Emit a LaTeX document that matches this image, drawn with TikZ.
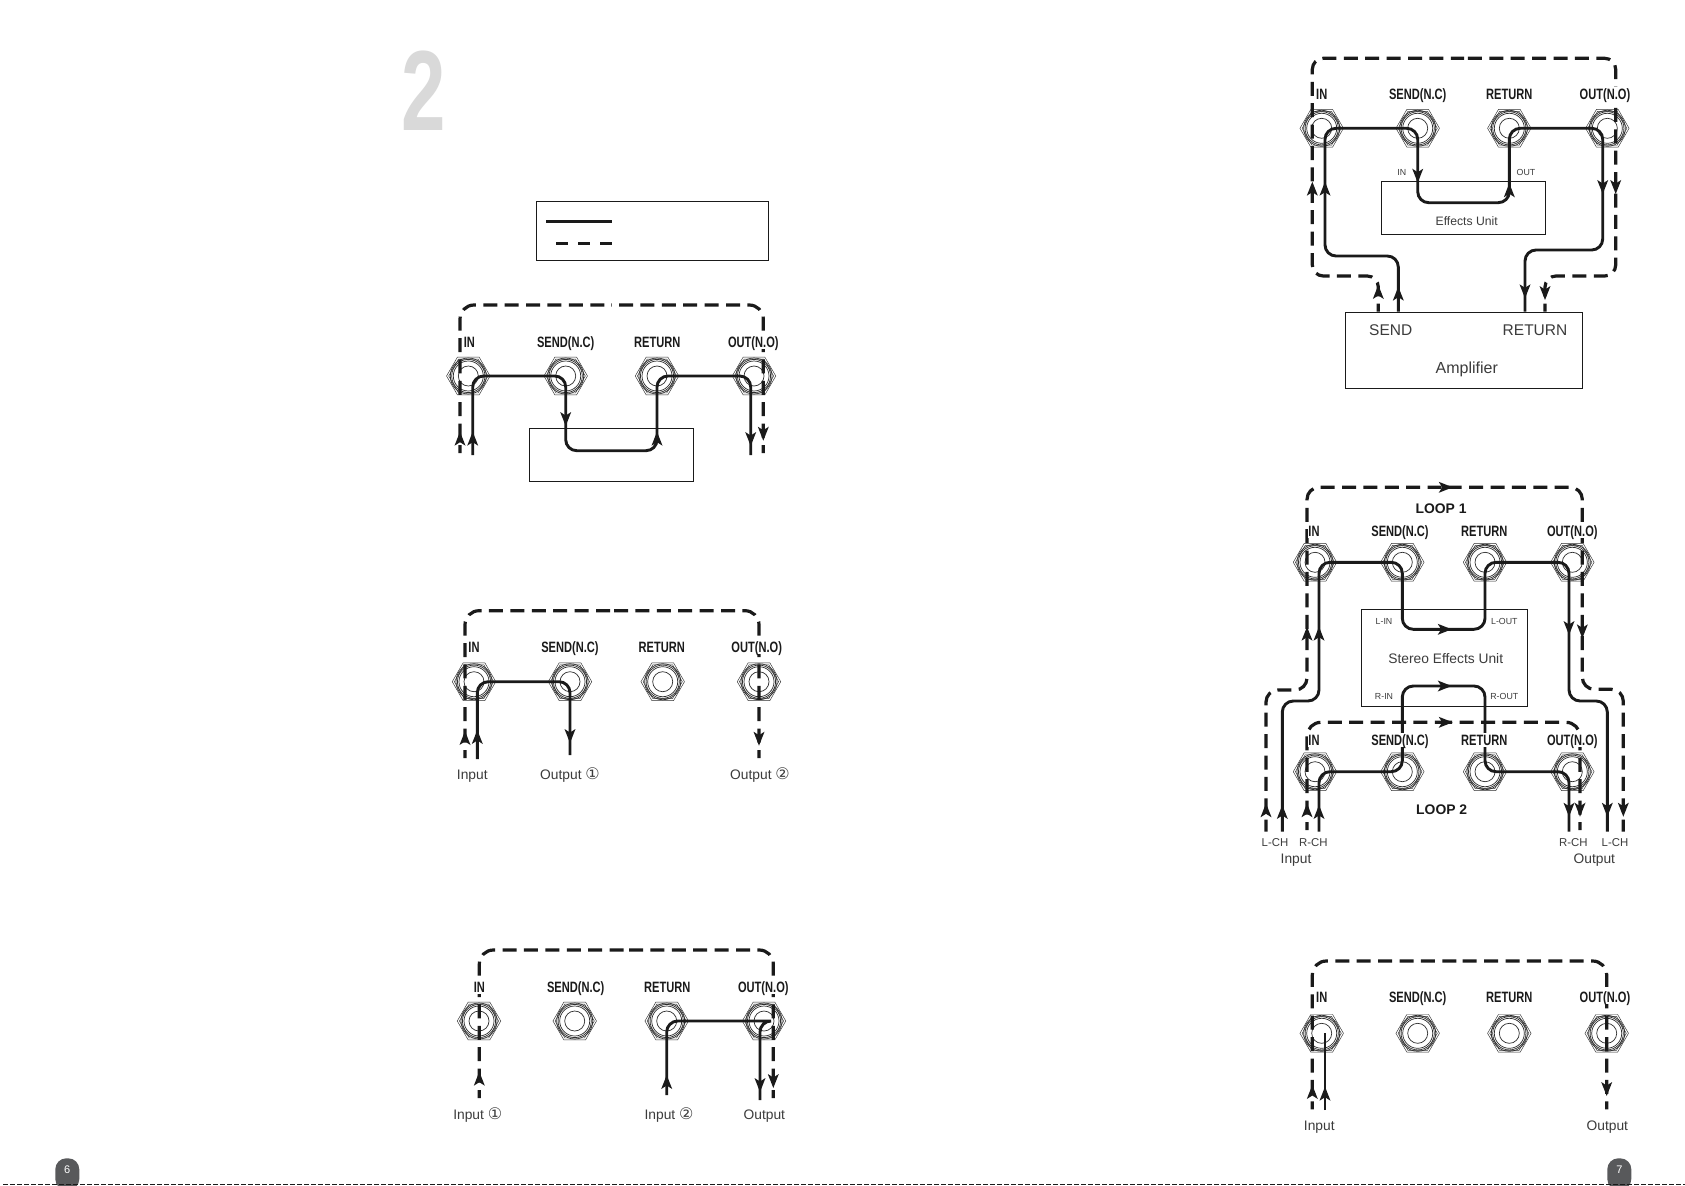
\documentclass[tikz,border=0pt]{standalone}
\usepackage{fontspec}
\usetikzlibrary{shapes.geometric,calc}
\setmainfont{Liberation Sans}
\newfontfamily\jackfont[FakeStretch=0.74]{Liberation Sans}
\newfontfamily\bigfont[FakeStretch=0.7]{Liberation Sans}
\newfontfamily\circfont{DejaVu Sans}
\definecolor{ink}{HTML}{1A1A1A}
\definecolor{softink}{HTML}{3C3C3C}
\definecolor{jackline}{HTML}{2E2E2E}
\definecolor{tabgrey}{HTML}{58595B}
\definecolor{biggrey}{HTML}{D9D9D9}
\tikzset{
  x=1pt,y=-1pt,
  jackbase/.style={regular polygon,regular polygon sides=6,minimum size=43.5pt,inner sep=0pt,draw=jackline,line width=.45pt},
  jacklabel/.style={inner xsep=0pt,inner ysep=1.6pt,fill=white,text=ink,text height=10.8pt,text depth=0pt,font=\jackfont\bfseries\fontsize{15}{15}\selectfont},
  caption/.style={inner sep=0pt,yshift=-2pt,text=softink,text height=10pt,text depth=3pt,font=\fontsize{13.8}{14}\selectfont},
  tiny/.style={inner sep=0pt,yshift=-.5pt,text=softink,font=\fontsize{8.8}{10}\selectfont},
  small/.style={inner sep=0pt,yshift=-2pt,text=softink,font=\fontsize{11.4}{12}\selectfont},
  unitbox/.style={draw=ink,line width=.8pt},
  loopname/.style={inner sep=0pt,yshift=-1pt,text=ink,font=\bfseries\fontsize{13.9}{14}\selectfont},
  wire/.style={draw=ink,line width=2.9pt,rounded corners=11pt},
  dashwire/.style={draw=ink,line width=3.2pt,rounded corners=14pt,dash pattern=on 14pt off 7.4pt,dash phase=6pt},
  tipfill/.style={fill=ink,draw=none}
}
% jack: named node with inner hexagon and rings
\newcommand{\jack}[3]{%
  \node[jackbase] (#1) at (#2,#3) {};
  \draw[jackline,line width=.45pt,shift={(#1.center)}]
    (0:19.6) -- (60:19.6) -- (120:19.6) -- (180:19.6) -- (240:19.6) -- (300:19.6) -- cycle;
  \draw[jackline,line width=.7pt] (#1.center) circle[radius=18];
  \draw[jackline,line width=.7pt] (#1.center) circle[radius=16.6];
  \draw[jackline,line width=.7pt] (#1.center) circle[radius=15];
  \draw[jackline,line width=.7pt] (#1.center) circle[radius=10];
}
% arrow tips, given by the point of the tip
\newcommand{\tipat}[3]{\fill[tipfill,shift={(#1,#2)},rotate=#3] (0,0) -- (-14,5.5) -- (-10.5,0) -- (-14,-5.5) -- cycle;}
\newcommand{\tipup}[2]{\tipat{#1}{#2}{90}}
\newcommand{\tipdown}[2]{\tipat{#1}{#2}{-90}}
\newcommand{\tipright}[2]{\tipat{#1}{#2}{0}}
% four jacks in a row: prefix, y, x of each
\newcommand{\jackrow}[6]{\jack{#1in}{#3}{#2}\jack{#1send}{#4}{#2}\jack{#1ret}{#5}{#2}\jack{#1out}{#6}{#2}}
% their four labels: prefix, y, x of each
\newcommand{\labelrow}[6]{%
  \node[jacklabel] (#1lin) at (#3,#2) {IN};
  \node[jacklabel] (#1lsend) at (#4,#2) {SEND(N.C)};
  \node[jacklabel] (#1lret) at (#5,#2) {RETURN};
  \node[jacklabel] (#1lout) at (#6,#2) {OUT(N.O)};
}
\newcommand{\circled}[1]{{\circfont\fontsize{16}{14}\selectfont #1}}
\begin{document}
\begin{tikzpicture}
\useasboundingbox (0,0) rectangle (1685,1185);
\fill[white] (0,0) rectangle (1685,1185);

% big numeral
\node[inner sep=0pt,text=biggrey,font=\bigfont\bfseries\fontsize{114}{114}\selectfont] (bignum) at (424,90.8) {2};

% legend
\draw[unitbox] (536.3,201.3) rectangle (768.3,260.3);
\coordinate (lega) at (546,221.3); \coordinate (legb) at (612,221.3);
\coordinate (legc) at (556,243.3); \coordinate (legd) at (612,243.3);
\draw[ink,line width=3pt] (lega) -- (legb);
\draw[ink,line width=3pt,dash pattern=on 12pt off 10pt] (legc) -- (legd);

% ===== diagram 1
\draw[unitbox] (529.3,428.3) rectangle (693.3,481.3);
\jackrow{a}{376}{468.3}{565.7}{657}{754}
\coordinate (ad1) at (460,453); \coordinate (ad2) at (763.3,453); \coordinate (adt) at (611,305);
\draw[dashwire] (ad1) |- (adt);
\draw[dashwire] (ad2) |- (adt);
\coordinate (as1) at (472.7,455); \coordinate (as2) at (750.7,455); \coordinate (asl) at (600,450.7);
\draw[wire] (as1) |- (asend.center) -- (asend.center |- asl) -| (aret.center) -- (as2 |- aret.center) -- (as2);
\tipup{460}{431.7}\tipup{472.7}{431.7}\tipdown{565.7}{426}\tipup{657}{431.7}\tipdown{750.7}{446}\tipdown{763.3}{440.7}
\labelrow{a}{341.8}{469.3}{565.7}{657.3}{753.3}

% ===== diagram 2
\jackrow{b}{681.7}{474}{570}{662.7}{759}
\coordinate (bd1) at (465,758); \coordinate (bd2) at (759,758); \coordinate (bdt) at (612,610.7);
\draw[dashwire] (bd1) |- (bdt);
\draw[dashwire] (bd2) |- (bdt);
\coordinate (bs1) at (477.3,759); \coordinate (bs2) at (570,755);
\draw[wire] (bs1) |- (bsend.center) -- (bs2);
\tipup{465}{731}\tipup{477.3}{730}\tipdown{570}{743}\tipdown{759}{745.7}
\labelrow{b}{646.7}{474}{570}{661.7}{756.7}
\node[caption] (bti) at (472.3,774) {Input};
\node[caption] (bto1) at (570,774) {Output \circled{①}};
\node[caption] (bto2) at (760,774) {Output \circled{②}};

% ===== diagram 3
\jackrow{c}{1021}{479}{574.7}{666.7}{764}
\coordinate (cd1) at (479.3,1098); \coordinate (cd2) at (773.3,1098); \coordinate (cdt) at (626,950);
\draw[dashwire] (cd1) |- (cdt);
\draw[dashwire] (cd2) |- (cdt);
\coordinate (cs1) at (666.7,1095); \coordinate (cs2) at (760,1100);
\draw[wire] (cs1) |- (cout.center) -- (cs2 |- cout.center) -- (cs2);
\tipup{479.3}{1071.7}\tipup{666.7}{1075}\tipdown{760}{1092}\tipdown{773.3}{1088}
\labelrow{c}{986.7}{479.3}{575.7}{667.3}{763.3}
\node[caption] (cti1) at (477.7,1114) {Input \circled{①}};
\node[caption] (cti2) at (669,1114) {Input \circled{②}};
\node[caption] (cto) at (764.3,1114) {Output};

% ===== diagram 4
\draw[unitbox] (1381.3,181.3) rectangle (1545.3,234);
\draw[unitbox] (1345.3,312.3) rectangle (1582.7,388.3);
\jackrow{d}{128.3}{1321.7}{1417.7}{1509.3}{1607.3}
\coordinate (dd1) at (1378.3,311.7); \coordinate (dd2) at (1545,311.7);
\coordinate (ddt) at (1464,58.3); \coordinate (ddb) at (1312.3,276); \coordinate (dde) at (1615.7,276);
\draw[dashwire,rounded corners=11pt] (dd1) -- (dd1 |- ddb) -- (ddb) |- (ddt);
\draw[dashwire,rounded corners=11pt] (dd2) -- (dd2 |- dde) -- (dde) |- (ddt);
\coordinate (ds1) at (1398.3,311.7); \coordinate (ds2) at (1525,311.7);
\coordinate (dsa) at (1325,256); \coordinate (dsl) at (1450,202.7); \coordinate (dsb) at (1602.7,250);
\draw[wire] (ds1) |- (dsa) |- (dsend.center) -- (dsend.center |- dsl) -| (dret.center) -- (dsb |- dret.center) -- (dsb) -- (ds2 |- dsb) -- (ds2);
\tipup{1312.3}{181.7}\tipup{1325}{181.7}\tipdown{1417.7}{182.7}\tipup{1509.3}{183.3}\tipdown{1602.7}{194}\tipdown{1615.7}{194}
\tipdown{1525}{298.3}\tipdown{1545}{300}\tipup{1378.3}{285}\tipup{1398.3}{286.7}
\labelrow{d}{94}{1321.7}{1417.7}{1509.3}{1605}
\node[inner sep=0pt,yshift=-1.5pt,text=softink,font=\fontsize{15.5}{16}\selectfont] (dsendt) at (1390.7,328.3) {SEND};
\node[inner sep=0pt,yshift=-1.5pt,text=softink,font=\fontsize{15.5}{16}\selectfont] (drett) at (1535,328.3) {RETURN};
\node[inner sep=0pt,yshift=-2pt,text=softink,font=\fontsize{16}{16}\selectfont] (damp) at (1466.7,367.7) {Amplifier};
\node[inner sep=0pt,yshift=-1pt,text=softink,font=\fontsize{12.2}{13}\selectfont] (deff) at (1466.7,220.3) {Effects Unit};
\node[tiny] (dtin) at (1401.7,172.3) {IN};
\node[tiny] (dtout) at (1526,172.3) {OUT};

% ===== diagram 5
\draw[unitbox] (1361.3,609.3) rectangle (1527.3,706.3);
\jackrow{e}{562.3}{1315}{1402.3}{1485}{1572.3}
\jackrow{f}{771.7}{1315}{1402.3}{1485}{1572.3}
% loop 1 dashed
\coordinate (e1) at (1266,831.7); \coordinate (e2) at (1623.3,831.7);
\coordinate (e3) at (1307,690); \coordinate (e4) at (1582.3,689.3); \coordinate (et) at (1444,487.3);
\draw[dashwire,rounded corners=12pt,dash phase=2pt] (e1) |- (e3) |- (et);
\draw[dashwire,rounded corners=12pt,dash phase=2pt] (e2) |- (e4) |- (et);
% loop 1 solid
\coordinate (e5) at (1282.3,831.7); \coordinate (e6) at (1607.3,831.7);
\coordinate (e7) at (1319,701); \coordinate (e8) at (1569,701); \coordinate (el) at (1450,629.3);
\draw[wire] (e5) |- (e7) |- (esend.center) -- (esend.center |- el) -| (eret.center) -- (e8 |- eret.center) -- (e8) -| (e6);
% loop 2 solid
\coordinate (f1) at (1319,831.7); \coordinate (f2) at (1569,831.7); \coordinate (fu) at (1450,686);
\draw[wire] (f1) |- (fsend.center) -- (fsend.center |- fu) -| (fret.center) -- (f2 |- fret.center) -- (f2);
% loop 2 dashed
\coordinate (f3) at (1307,830); \coordinate (f4) at (1580,830); \coordinate (ft) at (1443,722.3);
\draw[dashwire] (f3) |- (ft);
\draw[dashwire] (f4) |- (ft);
\tipright{1452.7}{487.3}\tipright{1451.7}{629.3}\tipright{1451.7}{686}\tipright{1452.7}{722.3}
\tipup{1307}{626.7}\tipup{1319}{626.7}\tipdown{1569}{635}\tipdown{1582.3}{638.3}
\tipup{1266}{803.3}\tipup{1282.3}{805}\tipup{1307}{803.3}\tipup{1319}{805}
\tipdown{1569}{816.7}\tipdown{1580}{816.7}\tipdown{1607.3}{816.7}\tipdown{1623.3}{816.7}
\labelrow{e}{531}{1314}{1400}{1484.3}{1572.3}
\labelrow{f}{740}{1314}{1400}{1484.3}{1572.3}
\node[loopname] (loopa) at (1441,507.3) {LOOP 1};
\node[loopname] (loopb) at (1441.7,809) {LOOP 2};
\node[inner sep=0pt,yshift=-1pt,text=softink,font=\fontsize{13.8}{14}\selectfont] (estereo) at (1445.7,657.3) {Stereo Effects Unit};
\node[tiny] (elin2) at (1384,621) {L-IN};
\node[tiny] (elout2) at (1504.3,621) {L-OUT};
\node[tiny] (erin2) at (1384,696) {R-IN};
\node[tiny] (erout2) at (1504.3,696) {R-OUT};
\node[small] (ech1) at (1275,841) {L-CH};
\node[small] (ech2) at (1313.3,841) {R-CH};
\node[small] (ech3) at (1573.3,841) {R-CH};
\node[small] (ech4) at (1615,841) {L-CH};
\node[caption] (eti) at (1296,858.3) {Input};
\node[caption] (eto) at (1594.3,858.3) {Output};

% ===== diagram 6
\jackrow{g}{1033.3}{1321.7}{1417.7}{1509.3}{1606.7}
\coordinate (gd1) at (1312.3,1109.3); \coordinate (gd2) at (1606.7,1109.3); \coordinate (gdt) at (1459,961);
\draw[dashwire] (gd1) |- (gdt);
\draw[dashwire] (gd2) |- (gdt);
\coordinate (gs1) at (1325,1110);
\draw[wire] (gs1) -- (gs1 |- gsend.center);
\tipup{1312.3}{1085}\tipup{1325}{1086.7}\tipdown{1606.7}{1096}
\labelrow{g}{996.7}{1321.7}{1417.7}{1509.3}{1605}
\node[caption] (gti) at (1319.3,1125) {Input};
\node[caption] (gto) at (1607.3,1125) {Output};

% page tabs
\fill[tabgrey,rounded corners=11pt] (55.3,1190) -- (55.3,1158.3) -- (79.3,1158.3) -- (79.3,1190) -- cycle;
\node[inner sep=0pt,text=white,font=\fontsize{11}{11}\selectfont] (pagesix) at (67.3,1169.5) {6};
\fill[tabgrey,rounded corners=11pt] (1607.3,1190) -- (1607.3,1158.3) -- (1631.3,1158.3) -- (1631.3,1190) -- cycle;
\node[inner sep=0pt,text=white,font=\fontsize{11}{11}\selectfont] (pageseven) at (1619.3,1169.5) {7};

% trim strip along the bottom edge
\coordinate (triml) at (3,1184.5); \coordinate (trimr) at (1685,1184.5);
\draw[ink,line width=1pt,dash pattern=on 5pt off 2pt] (triml) -- (trimr);
\end{tikzpicture}
\end{document}
